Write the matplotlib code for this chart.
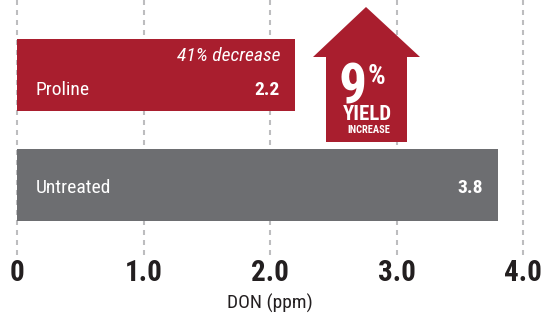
import matplotlib.pyplot as plt
from matplotlib.patches import Polygon
from matplotlib.transforms import Affine2D

plt.rcParams['lines.scale_dashes'] = False
plt.rcParams['font.family'] = ['Roboto Condensed', 'DejaVu Sans']

# data
categories = ['Proline', 'Untreated']
don_values = [2.2, 3.8]
value_labels = ['2.2', '3.8']
bar_colors = ['#a91e2e', '#6d6e71']
ticks = [0, 1.0, 2.0, 3.0, 4.0]
tick_labels = ['0', '1.0', '2.0', '3.0', '4.0']
note = '41% decrease'
yield_gain = '9'

W, H = 558, 315
fig = plt.figure(figsize=(W / 100, H / 100), dpi=100)
# pixel (y-down) -> figure coords, used for the callout arrow
px = Affine2D().scale(1 / W, -1 / H).translate(0, 1) + fig.transFigure

ax = fig.add_axes([17 / W, (H - 255) / H, 506 / W, 255 / H])
ax.set_xlim(0, 4)
ax.set_ylim(1.636, -0.682)
for s in ax.spines.values():
    s.set_visible(False)

for t in ticks:
    ax.axvline(t, color='#bdbdbf', lw=1.5, dashes=(3.6, 3.6), zorder=1, clip_on=False)

ax.barh(range(len(categories)), don_values, height=0.65, color=bar_colors, zorder=2)

label_dy = [0.14, 0.03]
for i, (cat, v, lab) in enumerate(zip(categories, don_values, value_labels)):
    ax.text(0.15, i + label_dy[i], cat, color='white', fontsize=14,
            va='center', ha='left', zorder=3)
    ax.text(v - 0.12, i + label_dy[i], lab, color='white', fontsize=14,
            fontweight='bold', va='center', ha='right', zorder=3)
ax.text(don_values[0] - 0.12, -0.17, note, color='white', fontsize=14,
        style='italic', va='center', ha='right', zorder=3)

ax.set_xticks(ticks)
ax.set_xticklabels(tick_labels, fontweight='bold', fontsize=21, color='#231f20')
ax.tick_params(axis='x', length=0, pad=3)
ax.set_yticks([])
ax.set_xlabel('DON (ppm)', fontsize=14, color='#231f20', labelpad=5)

# yield arrow
arrow_pts = [(366, 7), (420, 57), (407, 57), (407, 142), (326, 142), (326, 57), (313, 57)]
fig.add_artist(Polygon(arrow_pts, closed=True, facecolor='#a91e2e', edgecolor='none',
                       transform=px, zorder=5))
fig.text(367, 104, yield_gain, transform=px, color='white', fontsize=40,
         fontweight='bold', ha='right', va='baseline', zorder=6)
fig.text(368, 84, '%', transform=px, color='white', fontsize=20,
         fontweight='bold', ha='left', va='baseline', zorder=6)
fig.text(367, 120, 'YIELD', transform=px, color='white', fontsize=15,
         fontweight='bold', ha='center', va='baseline', zorder=6)
fig.text(369, 133, 'INCREASE', transform=px, color='white', fontsize=7.5,
         fontweight='bold', ha='center', va='baseline', zorder=6)

fig.savefig('out.png', dpi=100)
